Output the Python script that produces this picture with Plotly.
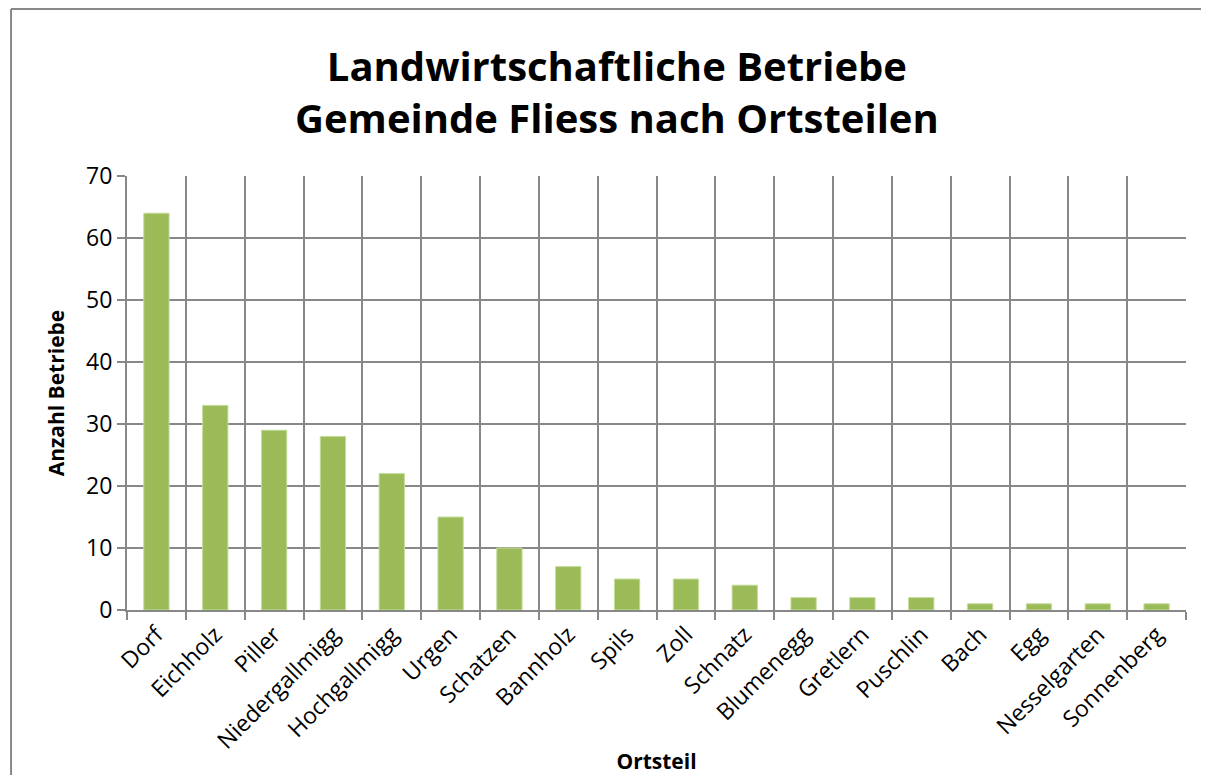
import plotly.graph_objects as go

ortsteile = ['Dorf', 'Eichholz', 'Piller', 'Niedergallmigg', 'Hochgallmigg', 'Urgen',
             'Schatzen', 'Bannholz', 'Spils', 'Zoll', 'Schnatz', 'Blumenegg',
             'Gretlern', 'Puschlin', 'Bach', 'Egg', 'Nesselgarten', 'Sonnenberg']
betriebe = [64, 33, 29, 28, 22, 15, 10, 7, 5, 5, 4, 2, 2, 2, 1, 1, 1, 1]

GRID = '#888888'
FONT = 'Open Sans, Noto Sans, sans-serif'

fig = go.Figure(go.Bar(
    x=ortsteile, y=betriebe,
    marker=dict(color='#9BBB59', line=dict(color='#c5dc9a', width=1)),
))

fig.update_layout(
    width=1201, height=767,
    margin=dict(l=119, r=23, t=168, b=165, autoexpand=False),
    paper_bgcolor='white', plot_bgcolor='white',
    bargap=0.57,
    showlegend=False,
    font=dict(family=FONT, color='black'),
    title=dict(
        text='<b>Landwirtschaftliche Betriebe<br>Gemeinde Fliess nach Ortsteilen</b>',
        x=0.507, xanchor='center', y=0.905, yanchor='middle',
        font=dict(size=40, family=FONT),
    ),
    shapes=[
        dict(type='line', xref='paper', yref='paper', x0=-0.1095, x1=-0.1095,
             y0=-0.5, y1=1.385, line=dict(color=GRID, width=2)),
        dict(type='line', xref='paper', yref='paper', x0=-0.1095, x1=1.1,
             y0=1.385, y1=1.385, line=dict(color=GRID, width=2)),
    ],
)

fig.update_yaxes(
    range=[0, 70], dtick=10, automargin=False,
    showgrid=True, gridcolor=GRID, gridwidth=2,
    showline=True, linecolor=GRID, linewidth=2,
    zeroline=False,
    ticks='outside', ticklen=8, tickcolor=GRID, tickwidth=2,
    tickfont=dict(size=23),
    title=dict(text='<b>Anzahl Betriebe</b>', font=dict(size=21), standoff=16),
)
fig.update_xaxes(
    automargin=False,
    showgrid=True, gridcolor=GRID, gridwidth=2,
    tickson='boundaries',
    ticks='outside', ticklen=8, tickcolor=GRID, tickwidth=2,
    showline=True, linecolor=GRID, linewidth=2, mirror=False,
    tickangle=-45, tickfont=dict(size=23),
    title=dict(text='<b>Ortsteil</b>', font=dict(size=21), standoff=4),
)

fig.write_html('out.html')
